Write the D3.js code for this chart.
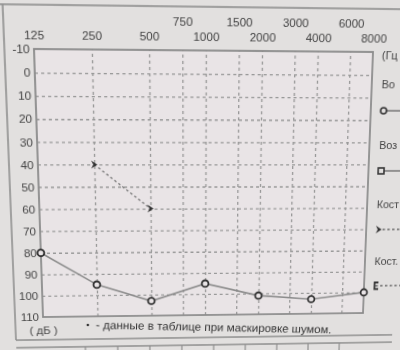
<!DOCTYPE html>
<html>
<head>
<meta charset="utf-8">
<script src="https://cdn.jsdelivr.net/npm/d3@7"></script>
<style>
	body { margin: 0; background: #e2e0df; overflow: hidden; width: 400px; height: 350px; }
	#chart { position: absolute; left: 0; top: 0; overflow: visible; transform-origin: 0 0;
		font-family: "Liberation Sans", Arial, sans-serif; }
</style>
</head>
<body>
<svg id="chart" width="400" height="350"></svg>
<script>
let airFrequencies = [125, 250, 500, 1000, 2000, 4000, 8000];
let airLevels = [80, 95, 103, 95, 101, 103, 100];
let boneFrequencies = [250, 500];
let boneLevels = [40, 60];

let mainTicks = [125, 250, 500, 1000, 2000, 4000, 8000];
let halfTicks = [750, 1500, 3000, 6000];
let gridFrequencies = [250, 500, 750, 1000, 1500, 2000, 3000, 4000, 6000];
let levelTicks = [-10, 0, 10, 20, 30, 40, 50, 60, 70, 80, 90, 100, 110];
let gridLevels = [0, 10, 20, 30, 40, 50, 60, 70, 80, 90, 100];

// only the start of these is left on the photo
let legendLabels = ["Во", "Воз", "Кост", "Кост."];
let unitX = "(Гц";
let unitY = "( дБ )";
let footnote = "- данные в таблице при маскировке шумом.";

let plot = { left: 38, right: 368, top: 50, bottom: 315 };
// where the plot corners landed in the photo
let photoCorners = [[34, 49], [373, 52], [363, 313], [43, 317]];

const ink = "#454545";
const lineGray = "#8c8c8c";
const gridGray = "#999";

let svg = d3.select("#chart");

let x = d3.scaleLog().base(2).domain([125, 8000]).range([plot.left, plot.right]);
let y = d3.scaleLinear().domain([-10, 110]).range([plot.top, plot.bottom]);

let page = svg.append("g").attr("filter", "url(#soft)");
svg.append("defs").append("filter").attr("id", "soft")
	.append("feGaussianBlur").attr("stdDeviation", 0.45);

// form frame
page.append("path")
	.attr("d", "M0,9 L400,9 M10,9 L10,339 M10,339 L400,339 M10,347 L400,347")
	.attr("stroke", lineGray).attr("stroke-width", 1.5).attr("fill", "none");
[80, 113, 146, 179, 212, 245, 278, 311, 344].forEach(cx => {
	page.append("line").attr("x1", cx).attr("x2", cx).attr("y1", 347).attr("y2", 360)
		.attr("stroke", lineGray).attr("stroke-width", 1.2);
});

page.append("rect")
	.attr("x", plot.left).attr("y", plot.top)
	.attr("width", plot.right - plot.left).attr("height", plot.bottom - plot.top)
	.attr("fill", "#e9e4e6");

// grid
let hGrid = page.append("g")
	.attr("transform", `translate(${plot.left},0)`)
	.call(d3.axisLeft(y).tickValues(gridLevels).tickSize(-(plot.right - plot.left)).tickFormat(""));
let vGrid = page.append("g")
	.attr("transform", `translate(0,${plot.bottom})`)
	.call(d3.axisBottom(x).tickValues(gridFrequencies).tickSize(-(plot.bottom - plot.top)).tickFormat(""));
[hGrid, vGrid].forEach(g => {
	g.select(".domain").remove();
	g.selectAll(".tick line")
		.attr("stroke", gridGray).attr("stroke-width", 1.3).attr("stroke-dasharray", "3,3");
});

page.append("rect")
	.attr("x", plot.left).attr("y", plot.top)
	.attr("width", plot.right - plot.left).attr("height", plot.bottom - plot.top)
	.attr("fill", "none").attr("stroke", lineGray).attr("stroke-width", 1.8);

// axes labels
let yAxis = page.append("g")
	.attr("transform", `translate(${plot.left},0)`)
	.call(d3.axisLeft(y).tickValues(levelTicks).tickFormat(d => String(d)).tickSize(0).tickPadding(4));
let topMain = page.append("g")
	.attr("transform", `translate(0,${plot.top})`)
	.call(d3.axisTop(x).tickValues(mainTicks).tickFormat(d => String(d)).tickSize(0).tickPadding(9));
let topHalf = page.append("g")
	.attr("transform", `translate(0,${plot.top})`)
	.call(d3.axisTop(x).tickValues(halfTicks).tickFormat(d => String(d)).tickSize(0).tickPadding(23));
[yAxis, topMain, topHalf].forEach(g => {
	g.select(".domain").remove();
	g.selectAll("text")
		.attr("fill", ink).attr("font-size", 11.5).attr("font-family", "Liberation Sans, Arial, sans-serif");
});

// bone conduction
page.append("path")
	.datum(boneFrequencies.map((f, i) => [f, boneLevels[i]]))
	.attr("d", d3.line().x(d => x(d[0])).y(d => y(d[1])))
	.attr("fill", "none").attr("stroke", "#777").attr("stroke-width", 1.3).attr("stroke-dasharray", "2.5,2.5");

const chevron = "M-3,-4 L3,0 L-3,4 L-1,0 Z";
page.selectAll(".bone")
	.data(boneFrequencies.map((f, i) => [f, boneLevels[i]]))
	.join("path")
	.attr("class", "bone")
	.attr("transform", d => `translate(${x(d[0])},${y(d[1])})`)
	.attr("d", chevron)
	.attr("fill", "#333");

// air conduction
let airPoints = airFrequencies.map((f, i) => [f, airLevels[i]]);
page.append("path")
	.datum(airPoints)
	.attr("d", d3.line().x(d => x(d[0])).y(d => y(d[1])))
	.attr("fill", "none").attr("stroke", lineGray).attr("stroke-width", 1.6);
page.selectAll(".air")
	.data(airPoints)
	.join("circle")
	.attr("class", "air")
	.attr("cx", d => x(d[0])).attr("cy", d => y(d[1]))
	.attr("r", 3.4)
	.attr("fill", "#e9e4e6").attr("stroke", "#2e2e2e").attr("stroke-width", 1.8);

// right side legend, cut off by the photo
page.append("text").attr("x", 377).attr("y", 57).text(unitX)
	.attr("fill", ink).attr("font-size", 11);
let legendY = [85, 145, 205, 264];
legendLabels.forEach((label, i) => {
	page.append("text").attr("x", 378).attr("y", legendY[i]).text(label)
		.attr("fill", ink).attr("font-size", 11);
	let my = legendY[i] + 22;
	page.append("line").attr("x1", 380).attr("x2", 410).attr("y1", my).attr("y2", my)
		.attr("stroke", "#666").attr("stroke-width", 1.3)
		.attr("stroke-dasharray", i < 2 ? null : "2.5,2.5");
	let g = page.append("g").attr("transform", `translate(381,${my})`);
	if (i == 0) {
		g.append("circle").attr("r", 3).attr("fill", "#e2e0df").attr("stroke", "#333").attr("stroke-width", 1.6);
	} else if (i == 1) {
		g.append("rect").attr("x", -3).attr("y", -3).attr("width", 6).attr("height", 6)
			.attr("fill", "#e2e0df").attr("stroke", "#333").attr("stroke-width", 1.6);
	} else if (i == 2) {
		g.append("path").attr("d", chevron).attr("fill", "#333");
	} else {
		g.append("path").attr("d", "M2,-3.5 L-2,-3.5 L-2,3.5 L2,3.5")
			.attr("fill", "none").attr("stroke", "#333").attr("stroke-width", 1.8);
	}
});

// bottom notes
page.append("text").attr("x", 24).attr("y", 333).text(unitY)
	.attr("fill", ink).attr("font-size", 11.5);
page.append("circle").attr("cx", 83).attr("cy", 324).attr("r", 1.3).attr("fill", "#333");
page.append("text").attr("x", 91).attr("y", 328).text(footnote)
	.attr("transform", "rotate(2,91,328)")
	.attr("fill", "#333").attr("font-size", 12);

// bend the flat drawing onto the photographed sheet
let flatCorners = [[plot.left, plot.top], [plot.right, plot.top], [plot.right, plot.bottom], [plot.left, plot.bottom]];
let h = homography(flatCorners, photoCorners);
svg.style("transform",
	`matrix3d(${h[0]},${h[3]},0,${h[6]},${h[1]},${h[4]},0,${h[7]},0,0,1,0,${h[2]},${h[5]},0,1)`);


function homography(src, dst) {
	let a = [];
	let b = [];
	src.forEach(([sx, sy], i) => {
		let [u, v] = dst[i];
		a.push([sx, sy, 1, 0, 0, 0, -sx * u, -sy * u]);
		b.push(u);
		a.push([0, 0, 0, sx, sy, 1, -sx * v, -sy * v]);
		b.push(v);
	});

	let n = 8;
	for (let i = 0; i < n; i++) {
		let p = i;
		for (let r = i + 1; r < n; r++) {
			if (Math.abs(a[r][i]) > Math.abs(a[p][i])) p = r;
		}
		[a[i], a[p]] = [a[p], a[i]];
		[b[i], b[p]] = [b[p], b[i]];
		for (let r = i + 1; r < n; r++) {
			let f = a[r][i] / a[i][i];
			for (let c = i; c < n; c++) a[r][c] -= f * a[i][c];
			b[r] -= f * b[i];
		}
	}

	let result = new Array(n);
	for (let i = n - 1; i >= 0; i--) {
		let s = b[i];
		for (let c = i + 1; c < n; c++) s -= a[i][c] * result[c];
		result[i] = s / a[i][i];
	}
	return result;
}
</script>
</body>
</html>
